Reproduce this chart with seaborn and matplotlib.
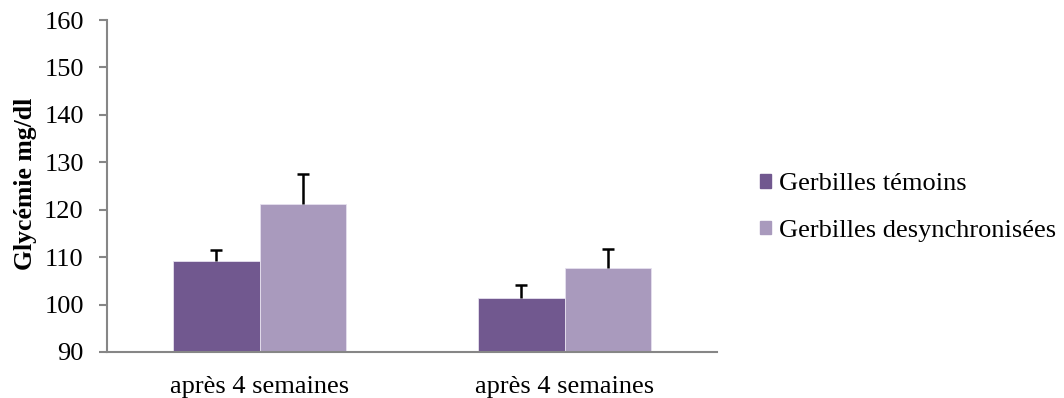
import numpy as np
import pandas as pd
import matplotlib
matplotlib.use("Agg")
import matplotlib.pyplot as plt
import seaborn as sns

# --- data ---
categories = ["après 4 semaines", "après 4 semaines"]
groups = ["Gerbilles témoins", "Gerbilles desynchronisées"]
temoins = [109.1, 101.3]
desync = [121.2, 107.7]
temoins_err = [2.4, 2.9]
desync_err = [6.4, 4.1]
colors = ["#71588F", "#A99ABD"]

keys = [f"g{i}" for i in range(len(categories))]
df = pd.DataFrame(
    {
        "cat": keys * 2,
        "groupe": [groups[0]] * len(keys) + [groups[1]] * len(keys),
        "val": temoins + desync,
    }
)

sns.set_theme(style="white")
plt.rcParams["font.family"] = ["Liberation Serif", "DejaVu Serif"]
plt.rcParams["text.color"] = "black"
plt.rcParams["axes.labelcolor"] = "black"
plt.rcParams["xtick.labelcolor"] = "black"
plt.rcParams["ytick.labelcolor"] = "black"

fig = plt.figure(figsize=(10.64, 3.98), dpi=100)
ax = fig.add_axes([0.1006, 0.1156, 0.5733, 0.8341])

sns.barplot(
    data=df, x="cat", y="val", hue="groupe", order=keys, hue_order=groups,
    palette=colors, width=0.57, errorbar=None, saturation=1,
    edgecolor="#E6E0EE", linewidth=0.6, ax=ax,
)

# upward-only error bars (hide the lower cap)
for cont, errs in zip(ax.containers, [temoins_err, desync_err]):
    xs = [b.get_x() + b.get_width() / 2 for b in cont]
    ys = [b.get_height() for b in cont]
    _, caps, _ = ax.errorbar(xs, ys, yerr=[np.zeros(len(errs)), errs], fmt="none",
                             ecolor="black", elinewidth=1.8, capsize=4.5,
                             capthick=1.8, zorder=1)
    caps[0].set_visible(False)

ax.set_ylim(90, 160)
ax.set_xlim(-0.5, 1.5)
ax.set_yticks(range(90, 161, 10))
ax.set_xticks(range(len(categories)))
ax.set_xticklabels(categories)
ax.set_xlabel("")
ax.set_ylabel("Glycémie mg/dl", fontsize=18.5, fontweight="bold", color="black")
ax.yaxis.set_label_coords(-0.115, 0.506)
ax.tick_params(axis="y", which="major", left=True, length=5.8, width=1.5,
               color="#868686", labelcolor="black", labelsize=19, pad=11)
ax.tick_params(axis="x", bottom=False, labelcolor="black", labelsize=19, pad=11)

for side in ["top", "right"]:
    ax.spines[side].set_visible(False)
for side in ["left", "bottom"]:
    ax.spines[side].set_color("#868686")
    ax.spines[side].set_linewidth(1.5)

ax.legend_.remove()
handles = [plt.Rectangle((0, 0), 1, 1, color=c) for c in colors]
leg = fig.legend(
    handles, groups, loc="center left", bbox_to_anchor=(0.714, 0.478),
    bbox_transform=fig.transFigure, frameon=False, fontsize=19,
    handlelength=0.42, handleheight=0.42, handletextpad=0.3,
    labelspacing=0.93, borderpad=0, borderaxespad=0,
)
for t in leg.get_texts():
    t.set_color("black")

fig.savefig("out.png", dpi=100)
